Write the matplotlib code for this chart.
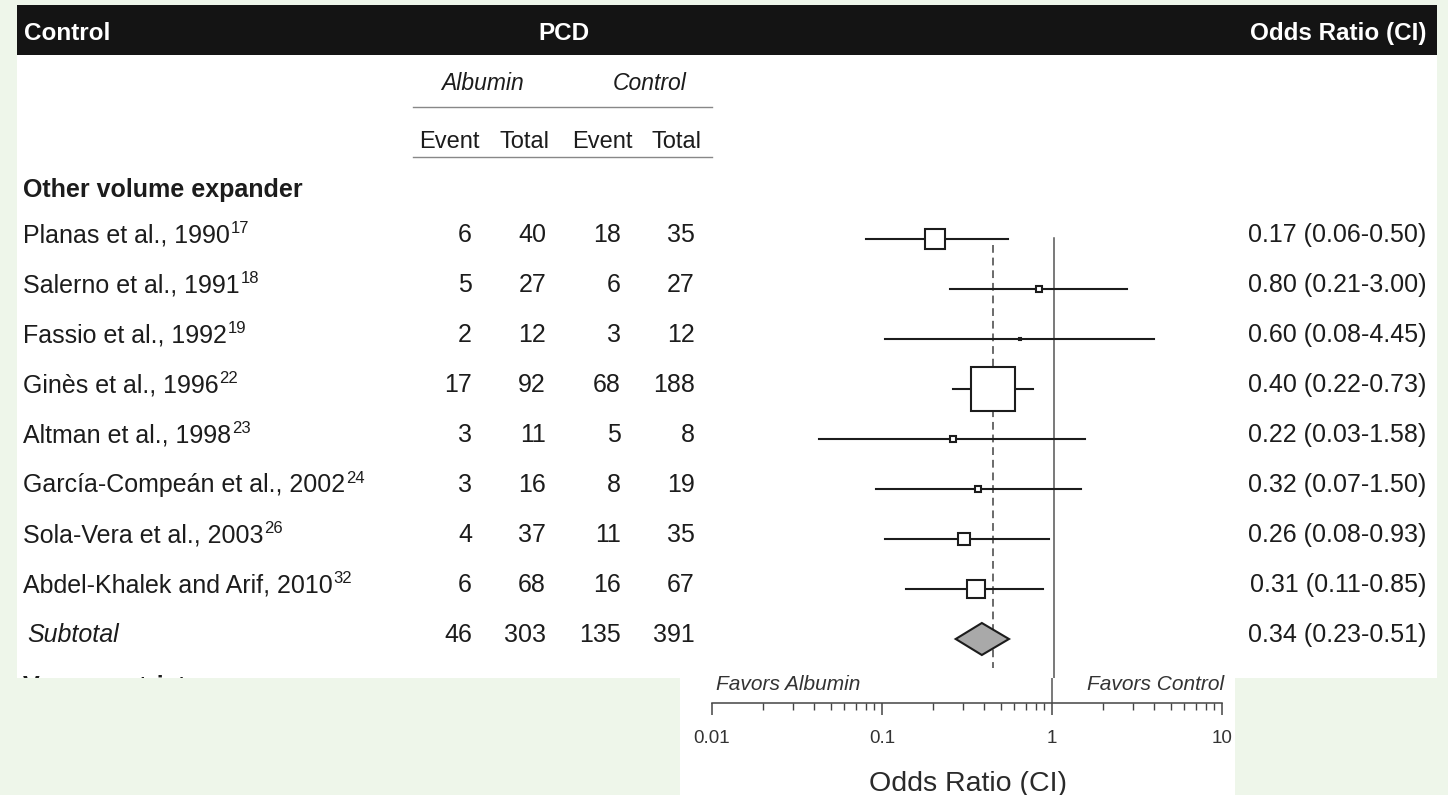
import matplotlib
matplotlib.use('Agg')
import matplotlib.pyplot as plt
import numpy as np
from matplotlib.patches import Rectangle
from matplotlib.ticker import FixedLocator, FixedFormatter, LogLocator, NullFormatter

plt.rcParams['font.family'] = ['Liberation Sans', 'DejaVu Sans']

# study rows
studies = ['Planas et al., 1990', 'Salerno et al., 1991', 'Fassio et al., 1992',
           'Ginès et al., 1996', 'Altman et al., 1998', 'García-Compeán et al., 2002',
           'Sola-Vera et al., 2003', 'Abdel-Khalek and Arif, 2010']
refs = ['17', '18', '19', '22', '23', '24', '26', '32']
alb_event = [6, 5, 2, 17, 3, 3, 4, 6]
alb_total = [40, 27, 12, 92, 11, 16, 37, 68]
ctl_event = [18, 6, 3, 68, 5, 8, 11, 16]
ctl_total = [35, 27, 12, 188, 8, 19, 35, 67]
odds = [0.17, 0.80, 0.60, 0.40, 0.22, 0.32, 0.26, 0.31]
ci_low = [0.06, 0.21, 0.08, 0.22, 0.03, 0.07, 0.08, 0.11]
ci_high = [0.50, 3.00, 4.45, 0.73, 1.58, 1.50, 0.93, 0.85]

# subgroup pooled result
sub_counts = [46, 303, 135, 391]
sub_or, sub_low, sub_high = 0.34, 0.23, 0.51
overall_or = 0.40

axis_ticks = [0.01, 0.1, 1, 10]
axis_labels = ['0.01', '0.1', '1', '10']

# box sides in pixels (study weight)
box_px = [21, 7, 4, 46, 7, 8, 14, 19]

W, H = 1448, 795
fig = plt.figure(figsize=(W / 100, H / 100), dpi=100)
fig.patch.set_facecolor('#eef6ea')


def px_axes(x0, y0, x1, y1):
    a = fig.add_axes([x0 / W, 1 - y1 / H, (x1 - x0) / W, (y1 - y0) / H])
    a.patch.set_alpha(0)
    return a


bg = px_axes(0, 0, W, H)
bg.set_xlim(0, W)
bg.set_ylim(H, 0)
bg.axis('off')

bg.add_patch(Rectangle((17, 5), 1420, 673, fc='white', ec='none'))
bg.add_patch(Rectangle((17, 5), 1420, 50, fc='#141414', ec='none'))
bg.add_patch(Rectangle((680, 678), 555, 117, fc='white', ec='none'))

ink = '#1c1c1c'
hdr = dict(color='white', fontsize=17.5, fontweight='bold', va='baseline')
bg.text(24, 40, 'Control', ha='left', **hdr)
bg.text(564, 40, 'PCD', ha='center', **hdr)
bg.text(1426, 40, 'Odds Ratio (CI)', ha='right', **hdr)

bg.text(483, 90, 'Albumin', ha='center', va='baseline', fontsize=16.5, style='italic', color=ink)
bg.text(650, 90, 'Control', ha='center', va='baseline', fontsize=16.5, style='italic', color=ink)
bg.plot([413, 712], [107, 107], color='#888888', lw=1.0)
bg.plot([413, 712], [157, 157], color='#888888', lw=1.0)
for x, word in zip([419, 499, 572, 652], ['Event', 'Total', 'Event', 'Total']):
    bg.text(x, 148, word, ha='left', va='baseline', fontsize=17, color=ink)

bg.text(23, 197, 'Other volume expander', ha='left', va='baseline', fontsize=18,
        fontweight='bold', color=ink)

col_x = [472, 546, 621, 695]
row_y = 239 + 50 * np.arange(len(studies))
body = dict(fontsize=18, color=ink, va='baseline')

for i, name in enumerate(studies):
    yb = row_y[i] + 3
    t = bg.text(23, yb, name, ha='left', **body)
    bg.annotate(refs[i], xy=(1, 1), xycoords=t, xytext=(0.6, 1.2),
                textcoords='offset points', ha='left', va='top', fontsize=12, color=ink)
    for x, v in zip(col_x, [alb_event[i], alb_total[i], ctl_event[i], ctl_total[i]]):
        bg.text(x, yb, str(v), ha='right', **body)
    bg.text(1426, yb, f'{odds[i]:.2f} ({ci_low[i]:.2f}-{ci_high[i]:.2f})', ha='right', **body)

sub_y = 239 + 50 * len(studies)
bg.text(27, sub_y + 3, 'Subtotal', ha='left', style='italic', **body)
for x, v in zip(col_x, sub_counts):
    bg.text(x, sub_y + 3, str(v), ha='right', **body)
bg.text(1426, sub_y + 3, f'{sub_or:.2f} ({sub_low:.2f}-{sub_high:.2f})', ha='right', **body)

# next subgroup heading, cut off by the panel edge
cutax = px_axes(17, 640, 700, 678)
cutax.set_xlim(17, 700)
cutax.set_ylim(678, 640)
cutax.axis('off')
cutax.text(23, 694, 'Vasoconstrictor', ha='left', va='baseline', fontsize=18,
           fontweight='bold', color=ink, clip_on=True)

# forest panel: OR = 1 at x=1054, one decade = 154 px
one_x, decade = 1054, 154
fx0, fx1 = 780, 1240
ax = px_axes(fx0, 200, fx1, 678)
ax.set_xscale('log')
ax.set_xlim(10 ** ((fx0 - one_x) / decade), 10 ** ((fx1 - one_x) / decade))
ax.set_ylim(678, 200)
ax.axis('off')

ax.plot([1, 1], [238, 678], color='#555555', lw=1.1, zorder=1)
ax.plot([overall_or, overall_or], [245, 668], color='#6a6a6a', lw=1.4,
        dashes=(4, 2.5), zorder=1)
for i in range(len(studies)):
    y = row_y[i]
    ax.plot([ci_low[i], ci_high[i]], [y, y], color=ink, lw=1.5, zorder=2)
    side = max(box_px[i] - 1.5, 1.5) * 72 / 100
    ax.plot(odds[i], y, marker='s', ms=side, mfc='white', mec=ink, mew=1.5, zorder=3)

ax.fill([sub_low, sub_or, sub_high, sub_or], [sub_y, sub_y - 16, sub_y, sub_y + 16],
        fc='#a9a9a9', ec=ink, lw=1.5, zorder=3)

# odds-ratio axis below the table
ax2 = px_axes(712, 678, 1222, 703)
ax2.set_xscale('log')
ax2.set_xlim(axis_ticks[0], axis_ticks[-1])
for s in ['top', 'left', 'right']:
    ax2.spines[s].set_visible(False)
ax2.spines['bottom'].set_color('#444444')
ax2.spines['bottom'].set_linewidth(1.1)
ax2.set_yticks([])
ax2.xaxis.set_major_locator(FixedLocator(axis_ticks))
ax2.xaxis.set_major_formatter(FixedFormatter(axis_labels))
ax2.xaxis.set_minor_locator(LogLocator(base=10, subs=np.arange(2, 10)))
ax2.xaxis.set_minor_formatter(NullFormatter())
ax2.tick_params(axis='x', which='major', direction='out', length=8.5, width=1.1,
                color='#444444', labelsize=13.5, labelcolor='#333333', pad=11)
ax2.tick_params(axis='x', which='minor', direction='out', length=5, width=1.0,
                color='#444444')
ax2.axvline(1, color='#555555', lw=1.1)

bg.text(716, 690, 'Favors Albumin', ha='left', va='baseline', fontsize=15,
        style='italic', color='#333333')
bg.text(1224, 690, 'Favors Control', ha='right', va='baseline', fontsize=15,
        style='italic', color='#333333')
bg.text(968, 791, 'Odds Ratio (CI)', ha='center', va='baseline', fontsize=20.5,
        color='#2a2a2a')

fig.savefig('out.png', dpi=100, facecolor=fig.get_facecolor())
